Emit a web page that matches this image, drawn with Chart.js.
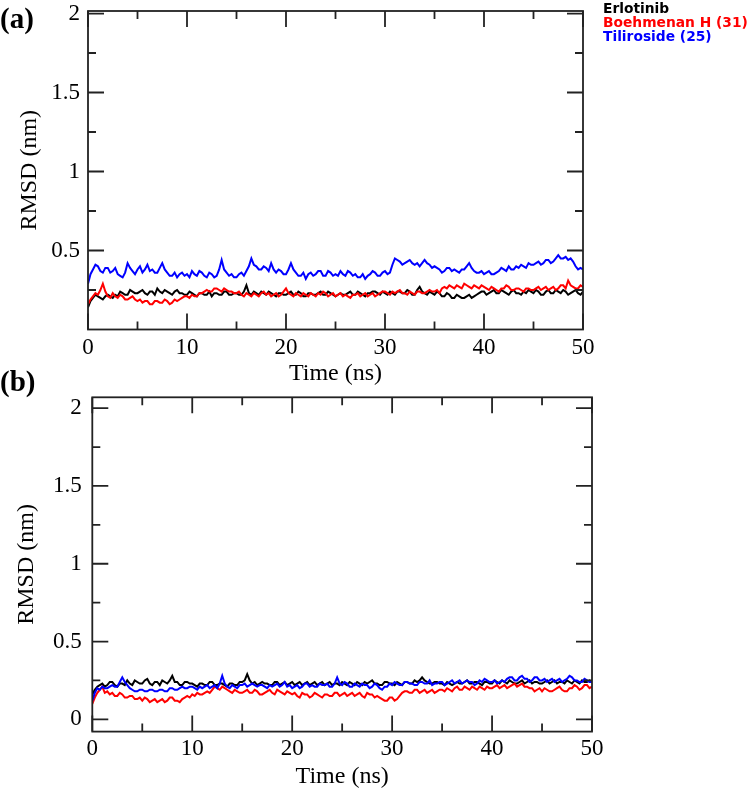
<!DOCTYPE html>
<html><head><meta charset="utf-8">
<script src="https://cdn.jsdelivr.net/npm/chart.js@4"></script>
<style>
html,body{margin:0;padding:0;background:#fff;}
#wrap{position:relative;width:754px;height:790px;overflow:hidden;background:#fff;}
canvas{position:absolute;left:0;}
#ca{top:0;} #cb{top:390px;}
.panel{position:absolute;left:0;font:bold 29px/29px "Liberation Serif";color:#000;white-space:nowrap;}
#legend{position:absolute;left:603px;top:1px;font:bold 13.8px/14px "DejaVu Sans";white-space:nowrap;}
</style></head><body>
<div id="wrap">
<canvas id="ca" width="754" height="390"></canvas>
<canvas id="cb" width="754" height="400"></canvas>
<div class="panel" style="top:4px">(a)</div>
<div class="panel" style="top:367px">(b)</div>
<div id="legend"></div>
</div>
<script>
const timeNs = [
0,0.25,0.5,0.75,1,1.25,1.5,1.75,2,2.25,2.5,2.75,3,3.25,3.5,3.75,4,4.25,4.5,4.75,
5,5.25,5.5,5.75,6,6.25,6.5,6.75,7,7.25,7.5,7.75,8,8.25,8.5,8.75,9,9.25,9.5,9.75,
10,10.25,10.5,10.75,11,11.25,11.5,11.75,12,12.25,12.5,12.75,13,13.25,13.5,13.75,14,14.25,14.5,14.75,
15,15.25,15.5,15.75,16,16.25,16.5,16.75,17,17.25,17.5,17.75,18,18.25,18.5,18.75,19,19.25,19.5,19.75,
20,20.25,20.5,20.75,21,21.25,21.5,21.75,22,22.25,22.5,22.75,23,23.25,23.5,23.75,24,24.25,24.5,24.75,
25,25.25,25.5,25.75,26,26.25,26.5,26.75,27,27.25,27.5,27.75,28,28.25,28.5,28.75,29,29.25,29.5,29.75,
30,30.25,30.5,30.75,31,31.25,31.5,31.75,32,32.25,32.5,32.75,33,33.25,33.5,33.75,34,34.25,34.5,34.75,
35,35.25,35.5,35.75,36,36.25,36.5,36.75,37,37.25,37.5,37.75,38,38.25,38.5,38.75,39,39.25,39.5,39.75,
40,40.25,40.5,40.75,41,41.25,41.5,41.75,42,42.25,42.5,42.75,43,43.25,43.5,43.75,44,44.25,44.5,44.75,
45,45.25,45.5,45.75,46,46.25,46.5,46.75,47,47.25,47.5,47.75,48,48.25,48.5,48.75,49,49.25,49.5,49.75,
50];

const seriesNames = ['Erlotinib','Boehmenan H (31)','Tiliroside (25)'];
const seriesColors = ['#000000','#ff0000','#0000ff'];

// Panel (a)
const erlotinibA = [
0.14,0.18,0.20,0.22,0.21,0.20,0.19,0.21,0.22,0.21,0.20,0.22,0.21,0.24,0.23,0.22,0.22,0.25,0.24,0.23,
0.23,0.24,0.25,0.23,0.22,0.24,0.24,0.22,0.26,0.24,0.23,0.25,0.24,0.23,0.22,0.24,0.25,0.23,0.23,0.22,
0.22,0.24,0.23,0.22,0.21,0.23,0.23,0.22,0.22,0.24,0.21,0.23,0.23,0.22,0.22,0.24,0.24,0.22,0.22,0.23,
0.23,0.22,0.22,0.24,0.28,0.23,0.22,0.24,0.23,0.22,0.24,0.23,0.22,0.24,0.23,0.22,0.21,0.23,0.23,0.22,
0.22,0.23,0.24,0.22,0.22,0.24,0.23,0.21,0.21,0.23,0.23,0.22,0.22,0.23,0.24,0.22,0.22,0.24,0.23,0.22,
0.21,0.22,0.23,0.22,0.22,0.23,0.24,0.22,0.22,0.24,0.23,0.22,0.21,0.23,0.23,0.24,0.24,0.23,0.22,0.24,
0.23,0.22,0.24,0.23,0.22,0.24,0.24,0.23,0.23,0.25,0.24,0.22,0.22,0.25,0.27,0.24,0.23,0.22,0.24,0.23,
0.22,0.24,0.23,0.21,0.21,0.23,0.22,0.20,0.20,0.22,0.21,0.20,0.20,0.21,0.22,0.20,0.21,0.22,0.23,0.24,
0.24,0.22,0.23,0.24,0.25,0.23,0.23,0.25,0.24,0.23,0.22,0.24,0.25,0.23,0.23,0.22,0.24,0.23,0.25,0.24,
0.23,0.25,0.24,0.22,0.22,0.24,0.25,0.23,0.23,0.25,0.24,0.23,0.25,0.24,0.22,0.23,0.24,0.25,0.23,0.22,
0.24];
const boehmenanA = [
0.16,0.19,0.21,0.23,0.22,0.25,0.29,0.24,0.21,0.20,0.23,0.21,0.20,0.22,0.21,0.19,0.19,0.20,0.21,0.19,
0.18,0.19,0.17,0.18,0.18,0.16,0.16,0.18,0.18,0.17,0.17,0.19,0.18,0.16,0.17,0.19,0.18,0.19,0.20,0.21,
0.21,0.20,0.22,0.21,0.21,0.23,0.23,0.24,0.25,0.24,0.24,0.26,0.26,0.25,0.24,0.26,0.25,0.24,0.24,0.23,
0.23,0.24,0.22,0.21,0.23,0.22,0.21,0.23,0.22,0.21,0.23,0.24,0.22,0.23,0.21,0.22,0.23,0.21,0.22,0.24,
0.26,0.23,0.22,0.21,0.23,0.22,0.21,0.23,0.22,0.21,0.23,0.22,0.21,0.23,0.22,0.24,0.23,0.21,0.22,0.23,
0.21,0.22,0.23,0.21,0.22,0.21,0.20,0.22,0.22,0.23,0.21,0.22,0.23,0.21,0.22,0.23,0.21,0.22,0.23,0.24,
0.24,0.23,0.22,0.24,0.23,0.24,0.25,0.23,0.23,0.22,0.24,0.23,0.22,0.24,0.24,0.23,0.23,0.24,0.25,0.24,
0.24,0.25,0.23,0.26,0.27,0.26,0.28,0.27,0.26,0.28,0.27,0.26,0.29,0.28,0.27,0.26,0.28,0.27,0.26,0.28,
0.27,0.26,0.25,0.27,0.26,0.25,0.24,0.26,0.26,0.28,0.27,0.25,0.25,0.26,0.26,0.25,0.24,0.26,0.26,0.25,
0.25,0.26,0.27,0.25,0.26,0.27,0.25,0.26,0.27,0.25,0.26,0.28,0.28,0.26,0.31,0.28,0.27,0.26,0.26,0.28,
0.27];
const tilirosideA = [
0.29,0.35,0.38,0.41,0.40,0.37,0.36,0.39,0.39,0.36,0.37,0.39,0.35,0.34,0.33,0.36,0.42,0.39,0.37,0.35,
0.38,0.40,0.36,0.38,0.41,0.37,0.38,0.36,0.36,0.39,0.42,0.38,0.36,0.34,0.34,0.36,0.33,0.35,0.36,0.34,
0.35,0.33,0.37,0.35,0.34,0.37,0.36,0.34,0.33,0.36,0.35,0.33,0.34,0.38,0.44,0.38,0.36,0.34,0.35,0.33,
0.33,0.35,0.36,0.34,0.37,0.40,0.45,0.41,0.40,0.38,0.38,0.40,0.39,0.37,0.42,0.38,0.36,0.38,0.37,0.35,
0.35,0.38,0.42,0.38,0.36,0.34,0.34,0.36,0.32,0.35,0.36,0.34,0.35,0.37,0.37,0.34,0.34,0.37,0.36,0.34,
0.35,0.34,0.37,0.35,0.34,0.37,0.36,0.34,0.35,0.33,0.33,0.35,0.32,0.34,0.35,0.37,0.36,0.34,0.34,0.36,
0.37,0.35,0.36,0.41,0.45,0.44,0.43,0.41,0.42,0.43,0.44,0.42,0.41,0.42,0.40,0.42,0.44,0.42,0.41,0.39,
0.40,0.39,0.38,0.36,0.37,0.39,0.39,0.37,0.38,0.37,0.36,0.38,0.38,0.40,0.42,0.39,0.37,0.36,0.36,0.37,
0.35,0.36,0.37,0.35,0.35,0.36,0.37,0.39,0.38,0.37,0.40,0.38,0.38,0.40,0.39,0.41,0.40,0.39,0.42,0.41,
0.41,0.42,0.43,0.41,0.42,0.44,0.44,0.42,0.43,0.45,0.47,0.45,0.45,0.46,0.44,0.45,0.43,0.40,0.38,0.39,
0.38];

// Panel (b)
const erlotinibB = [
0.16,0.19,0.21,0.22,0.23,0.21,0.22,0.24,0.24,0.22,0.21,0.23,0.23,0.22,0.25,0.23,0.22,0.25,0.24,0.23,
0.23,0.25,0.26,0.23,0.22,0.24,0.24,0.22,0.25,0.24,0.23,0.25,0.28,0.24,0.24,0.22,0.22,0.24,0.24,0.23,
0.23,0.22,0.21,0.23,0.23,0.22,0.22,0.24,0.24,0.22,0.22,0.23,0.23,0.22,0.21,0.23,0.23,0.22,0.22,0.24,
0.24,0.25,0.29,0.25,0.23,0.24,0.22,0.23,0.24,0.23,0.23,0.22,0.22,0.24,0.24,0.22,0.23,0.24,0.22,0.23,
0.24,0.22,0.23,0.24,0.22,0.23,0.24,0.22,0.23,0.24,0.22,0.23,0.24,0.22,0.23,0.24,0.22,0.23,0.23,0.22,
0.24,0.23,0.22,0.24,0.23,0.22,0.24,0.23,0.22,0.24,0.23,0.24,0.25,0.23,0.23,0.22,0.22,0.24,0.24,0.23,
0.23,0.22,0.24,0.23,0.22,0.24,0.24,0.23,0.23,0.25,0.24,0.25,0.27,0.25,0.24,0.23,0.23,0.24,0.24,0.23,
0.23,0.22,0.24,0.23,0.22,0.23,0.24,0.23,0.23,0.24,0.25,0.23,0.23,0.24,0.24,0.23,0.22,0.24,0.24,0.23,
0.23,0.25,0.24,0.23,0.25,0.24,0.23,0.25,0.24,0.23,0.23,0.24,0.25,0.23,0.24,0.25,0.23,0.24,0.24,0.23,
0.23,0.24,0.25,0.23,0.24,0.25,0.23,0.24,0.24,0.23,0.25,0.24,0.23,0.25,0.24,0.23,0.25,0.24,0.24,0.25,
0.24];
const boehmenanB = [
0.10,0.14,0.17,0.19,0.21,0.17,0.18,0.16,0.17,0.15,0.15,0.17,0.16,0.14,0.14,0.15,0.15,0.13,0.13,0.14,
0.12,0.14,0.13,0.11,0.12,0.13,0.11,0.12,0.13,0.11,0.12,0.14,0.14,0.12,0.12,0.11,0.13,0.14,0.15,0.14,
0.16,0.15,0.17,0.16,0.16,0.17,0.18,0.17,0.19,0.21,0.20,0.19,0.21,0.20,0.19,0.18,0.17,0.19,0.18,0.17,
0.17,0.18,0.19,0.17,0.17,0.19,0.18,0.16,0.16,0.17,0.18,0.19,0.17,0.16,0.19,0.18,0.17,0.16,0.18,0.17,
0.16,0.17,0.15,0.14,0.17,0.16,0.16,0.14,0.15,0.17,0.16,0.15,0.14,0.16,0.16,0.15,0.15,0.17,0.17,0.15,
0.16,0.17,0.15,0.16,0.17,0.15,0.16,0.17,0.15,0.14,0.17,0.16,0.16,0.14,0.15,0.14,0.13,0.12,0.12,0.14,
0.14,0.12,0.13,0.15,0.17,0.18,0.18,0.17,0.17,0.19,0.19,0.17,0.18,0.19,0.17,0.18,0.19,0.17,0.18,0.19,
0.19,0.18,0.20,0.19,0.18,0.20,0.21,0.19,0.19,0.21,0.20,0.19,0.21,0.20,0.19,0.21,0.20,0.19,0.21,0.20,
0.20,0.21,0.22,0.20,0.21,0.22,0.20,0.21,0.22,0.23,0.21,0.22,0.23,0.21,0.21,0.20,0.20,0.18,0.19,0.20,
0.18,0.20,0.19,0.18,0.18,0.19,0.20,0.21,0.19,0.18,0.18,0.20,0.20,0.22,0.21,0.19,0.20,0.22,0.22,0.20,
0.21];
const tilirosideB = [
0.12,0.17,0.20,0.19,0.21,0.20,0.20,0.21,0.22,0.21,0.21,0.24,0.27,0.24,0.22,0.20,0.19,0.18,0.18,0.19,
0.19,0.18,0.18,0.19,0.19,0.18,0.18,0.19,0.19,0.18,0.18,0.20,0.20,0.19,0.19,0.20,0.21,0.20,0.20,0.21,
0.21,0.20,0.19,0.21,0.20,0.21,0.22,0.20,0.21,0.22,0.20,0.23,0.28,0.23,0.21,0.20,0.22,0.21,0.20,0.22,
0.22,0.23,0.21,0.22,0.23,0.22,0.21,0.22,0.22,0.21,0.20,0.22,0.21,0.22,0.23,0.21,0.22,0.24,0.21,0.22,
0.20,0.21,0.22,0.20,0.21,0.23,0.23,0.21,0.22,0.21,0.21,0.23,0.22,0.22,0.23,0.21,0.21,0.23,0.27,0.23,
0.22,0.24,0.23,0.21,0.21,0.23,0.22,0.21,0.23,0.22,0.22,0.20,0.21,0.23,0.22,0.20,0.19,0.21,0.21,0.23,
0.22,0.24,0.23,0.22,0.22,0.24,0.24,0.23,0.23,0.22,0.22,0.24,0.24,0.23,0.23,0.25,0.22,0.23,0.23,0.24,
0.24,0.22,0.23,0.24,0.25,0.23,0.24,0.25,0.23,0.24,0.25,0.24,0.24,0.22,0.23,0.25,0.24,0.26,0.25,0.24,
0.24,0.25,0.23,0.24,0.25,0.24,0.26,0.27,0.27,0.25,0.25,0.27,0.28,0.26,0.26,0.24,0.25,0.27,0.27,0.25,
0.25,0.26,0.24,0.25,0.26,0.24,0.25,0.26,0.24,0.25,0.26,0.28,0.27,0.25,0.25,0.24,0.24,0.26,0.25,0.24,
0.24];

const xMajorTicks = [0,10,20,30,40,50];
const xMinorTicks = [5,15,25,35,45];
const yMajorTicksA = [0.5,1,1.5,2];
const yMajorTicksB = [0,0.5,1,1.5,2];
const yMinorTicks = [0.25,0.75,1.25,1.75];
const xTitle = 'Time (ns)';
const yTitle = 'RMSD (nm)';

Chart.defaults.font.family = '"Liberation Serif", "Times New Roman", serif';
Chart.defaults.color = '#000';

const frameTicks = {
  id: 'frameTicks',
  afterDatasetsDraw(chart, args, opts) {
    const {ctx, chartArea: a, scales: {x, y}} = chart;
    ctx.save();
    ctx.strokeStyle = '#222';
    ctx.lineWidth = 1.8;
    ctx.beginPath();
    const xt = (vals, len) => vals.forEach(v => {
      const px = x.getPixelForValue(v);
      ctx.moveTo(px, a.bottom); ctx.lineTo(px, a.bottom - len);
      ctx.moveTo(px, a.top); ctx.lineTo(px, a.top + len);
    });
    const yt = (vals, len) => vals.forEach(v => {
      const py = y.getPixelForValue(v);
      ctx.moveTo(a.left, py); ctx.lineTo(a.left + len, py);
      ctx.moveTo(a.right, py); ctx.lineTo(a.right - len, py);
    });
    xt(opts.xMajor, 16); xt(opts.xMinor, 8);
    yt(opts.yMajor, 16); yt(opts.yMinor, 8);
    ctx.stroke();
    ctx.strokeRect(a.left, a.top, a.right - a.left, a.bottom - a.top);
    ctx.restore();
  }
};

function makeChart(id, series, cfg) {
  return new Chart(document.getElementById(id), {
    type: 'line',
    data: {
      datasets: series.map((vals, i) => ({
        label: seriesNames[i],
        data: timeNs.map((t, k) => ({x: t, y: vals[k]})),
        borderColor: seriesColors[i],
        backgroundColor: seriesColors[i],
        borderWidth: 2,
        pointRadius: 0,
        tension: 0,
        fill: false,
        order: 2 - i
      }))
    },
    options: {
      responsive: false,
      animation: false,
      events: [],
      layout: {padding: cfg.padding},
      plugins: {
        legend: {display: false},
        tooltip: {enabled: false},
        frameTicks: {xMajor: xMajorTicks, xMinor: xMinorTicks, yMajor: cfg.yMajor, yMinor: yMinorTicks}
      },
      scales: {
        x: {
          type: 'linear', min: 0, max: 50,
          grid: {display: false, drawTicks: false},
          border: {display: false},
          afterBuildTicks: s => { s.ticks = xMajorTicks.map(v => ({value: v})); },
          afterFit: s => { s.height = cfg.xHeight; s.paddingLeft = 0; s.paddingRight = 0; },
          ticks: {padding: cfg.xPad, font: {size: 23, lineHeight: 1}, color: '#000', maxRotation: 0, autoSkip: false, callback: v => String(v)},
          title: {display: true, text: xTitle, color: '#000', font: {size: 24, lineHeight: 1}, padding: {top: 0, bottom: cfg.xTitlePad}}
        },
        y: {
          type: 'linear', min: cfg.yMin, max: cfg.yMax,
          grid: {display: false, drawTicks: false},
          border: {display: false},
          afterBuildTicks: s => { s.ticks = cfg.yMajor.map(v => ({value: v})); },
          afterFit: s => { s.width = cfg.yWidth; s.paddingTop = 0; s.paddingBottom = 0; },
          ticks: {padding: cfg.yPad, font: {size: 23, lineHeight: 1}, color: '#000', autoSkip: false, callback: v => String(v)},
          title: {display: true, text: yTitle, color: '#000', font: {size: 24, lineHeight: 1}, padding: {top: cfg.yTitlePad, bottom: 0}}
        }
      }
    },
    plugins: [frameTicks]
  });
}

makeChart('ca', [erlotinibA, boehmenanA, tilirosideA], {
  padding: {left: 8, top: 11, right: 171, bottom: 0},
  yWidth: 80, xHeight: 60.5, xPad: 6.5, yPad: 8, xTitlePad: 4, yTitlePad: 9.5,
  yMin: 0, yMax: 2.016, yMajor: yMajorTicksA
});
makeChart('cb', [erlotinibB, boehmenanB, tilirosideB], {
  padding: {left: 8, top: 7.3, right: 162, bottom: 0},
  yWidth: 84.3, xHeight: 58.4, xPad: 6, yPad: 10.5, xTitlePad: 1, yTitlePad: 7,
  yMin: -0.079, yMax: 2.07, yMajor: yMajorTicksB
});

const legend = document.getElementById('legend');
seriesNames.forEach((n, i) => {
  const d = document.createElement('div');
  d.textContent = n;
  d.style.color = seriesColors[i];
  legend.appendChild(d);
});
</script>
</body></html>
